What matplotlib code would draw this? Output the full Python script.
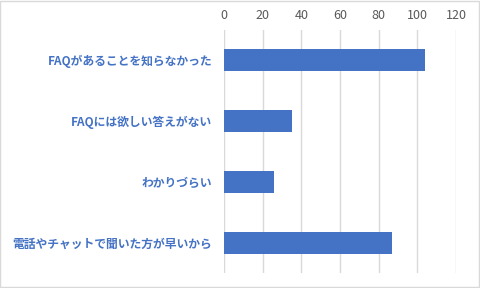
import matplotlib
matplotlib.use("Agg")
import matplotlib.pyplot as plt
from matplotlib.patches import Rectangle

plt.rcParams['font.family'] = ['Noto Sans CJK JP', 'DejaVu Sans']

categories = ["FAQがあることを知らなかった", "FAQには欲しい答えがない", "わかりづらい", "電話やチャットで聞いた方が早いから"]
values = [104, 35, 26, 87]
xticks = [0, 20, 40, 60, 80, 100, 120]

fig = plt.figure(figsize=(4.8, 2.88), dpi=100)
ax = fig.add_axes([224/480, 1-273/288, (456-224)/480, (273-30)/288])

ypos = list(range(len(categories)))
ax.barh(ypos, values, height=0.36, color="#4472C4", zorder=3)
ax.set_ylim(len(categories)-0.5, -0.5)
ax.set_xlim(0, 120)
ax.set_xticks(xticks)
ax.set_xticklabels([str(t) for t in xticks], color="#595959", fontsize=9)
ax.xaxis.tick_top()
ax.tick_params(axis='x', length=0, pad=6)
ax.set_yticks(ypos)
ax.set_yticklabels(categories, color="#4472C4", fontsize=8.5, fontweight='bold')
ax.tick_params(axis='y', length=0, pad=8.5)
ax.grid(axis='x', color="#D9D9D9", linewidth=1, zorder=0)
for s in ax.spines.values():
    s.set_visible(False)

fig.patches.append(Rectangle((0.001, 0.002), 0.997, 0.995, transform=fig.transFigure,
                             fill=False, edgecolor="#D9D9D9", linewidth=1))

fig.savefig("out.png", dpi=100)
